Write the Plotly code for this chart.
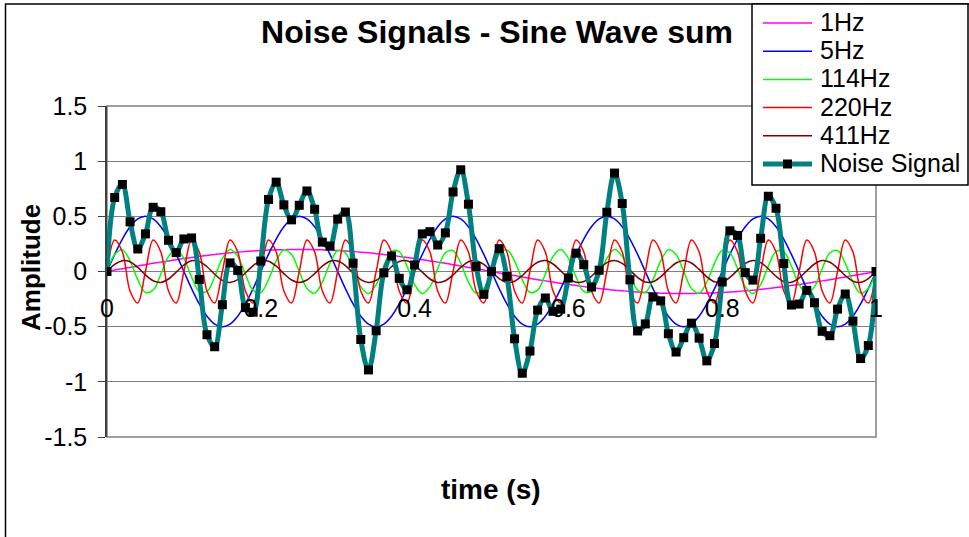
import plotly.graph_objects as go

# sampling instants (s), 100 samples per second
time_s = [i / 100 for i in range(101)]

# component waves
wave_1hz = [0, 0.013, 0.025, 0.037, 0.050, 0.062, 0.074, 0.085, 0.096, 0.107,
            0.118, 0.127, 0.137, 0.146, 0.154, 0.162, 0.169, 0.175, 0.181, 0.186,
            0.190, 0.194, 0.196, 0.198, 0.200, 0.200, 0.200, 0.198, 0.196, 0.194,
            0.190, 0.186, 0.181, 0.175, 0.169, 0.162, 0.154, 0.146, 0.137, 0.127,
            0.118, 0.107, 0.096, 0.085, 0.074, 0.062, 0.050, 0.037, 0.025, 0.013,
            0, -0.013, -0.025, -0.037, -0.050, -0.062, -0.074, -0.085, -0.096, -0.107,
            -0.118, -0.127, -0.137, -0.146, -0.154, -0.162, -0.169, -0.175, -0.181, -0.186,
            -0.190, -0.194, -0.196, -0.198, -0.200, -0.200, -0.200, -0.198, -0.196, -0.194,
            -0.190, -0.186, -0.181, -0.175, -0.169, -0.162, -0.154, -0.146, -0.137, -0.127,
            -0.118, -0.107, -0.096, -0.085, -0.074, -0.062, -0.050, -0.037, -0.025, -0.013, 0]

wave_5hz = [0, 0.155, 0.294, 0.405, 0.476, 0.5, 0.476, 0.405, 0.294, 0.155,
            0, -0.155, -0.294, -0.405, -0.476, -0.5, -0.476, -0.405, -0.294, -0.155,
            0, 0.155, 0.294, 0.405, 0.476, 0.5, 0.476, 0.405, 0.294, 0.155,
            0, -0.155, -0.294, -0.405, -0.476, -0.5, -0.476, -0.405, -0.294, -0.155,
            0, 0.155, 0.294, 0.405, 0.476, 0.5, 0.476, 0.405, 0.294, 0.155,
            0, -0.155, -0.294, -0.405, -0.476, -0.5, -0.476, -0.405, -0.294, -0.155,
            0, 0.155, 0.294, 0.405, 0.476, 0.5, 0.476, 0.405, 0.294, 0.155,
            0, -0.155, -0.294, -0.405, -0.476, -0.5, -0.476, -0.405, -0.294, -0.155,
            0, 0.155, 0.294, 0.405, 0.476, 0.5, 0.476, 0.405, 0.294, 0.155,
            0, -0.155, -0.294, -0.405, -0.476, -0.5, -0.476, -0.405, -0.294, -0.155, 0]

wave_114hz = [0, 0.154, 0.196, 0.096, -0.074, -0.190, -0.169, -0.025, 0.137, 0.200,
              0.118, -0.050, -0.181, -0.181, -0.050, 0.118, 0.200, 0.137, -0.025, -0.169,
              -0.190, -0.074, 0.096, 0.196, 0.154, 0, -0.154, -0.196, -0.096, 0.074,
              0.190, 0.169, 0.025, -0.137, -0.200, -0.118, 0.050, 0.181, 0.181, 0.050,
              -0.118, -0.200, -0.137, 0.025, 0.169, 0.190, 0.074, -0.096, -0.196, -0.154,
              0, 0.154, 0.196, 0.096, -0.074, -0.190, -0.169, -0.025, 0.137, 0.200,
              0.118, -0.050, -0.181, -0.181, -0.050, 0.118, 0.200, 0.137, -0.025, -0.169,
              -0.190, -0.074, 0.096, 0.196, 0.154, 0, -0.154, -0.196, -0.096, 0.074,
              0.190, 0.169, 0.025, -0.137, -0.200, -0.118, 0.050, 0.181, 0.181, 0.050,
              -0.118, -0.200, -0.137, 0.025, 0.169, 0.190, 0.074, -0.096, -0.196, -0.154, 0]

wave_220hz = [0, 0.285, 0.176, -0.176, -0.285, 0, 0.285, 0.176, -0.176, -0.285,
              0, 0.285, 0.176, -0.176, -0.285, 0, 0.285, 0.176, -0.176, -0.285,
              0, 0.285, 0.176, -0.176, -0.285, 0, 0.285, 0.176, -0.176, -0.285,
              0, 0.285, 0.176, -0.176, -0.285, 0, 0.285, 0.176, -0.176, -0.285,
              0, 0.285, 0.176, -0.176, -0.285, 0, 0.285, 0.176, -0.176, -0.285,
              0, 0.285, 0.176, -0.176, -0.285, 0, 0.285, 0.176, -0.176, -0.285,
              0, 0.285, 0.176, -0.176, -0.285, 0, 0.285, 0.176, -0.176, -0.285,
              0, 0.285, 0.176, -0.176, -0.285, 0, 0.285, 0.176, -0.176, -0.285,
              0, 0.285, 0.176, -0.176, -0.285, 0, 0.285, 0.176, -0.176, -0.285,
              0, 0.285, 0.176, -0.176, -0.285, 0, 0.285, 0.176, -0.176, -0.285, 0]

wave_411hz = [0, 0.064, 0.098, 0.088, 0.037, -0.031, -0.084, -0.099, -0.068, -0.006,
              0.059, 0.097, 0.090, 0.043, -0.025, -0.081, -0.100, -0.073, -0.013, 0.054,
              0.095, 0.093, 0.048, -0.019, -0.077, -0.100, -0.077, -0.019, 0.048, 0.093,
              0.095, 0.054, -0.013, -0.073, -0.100, -0.081, -0.025, 0.043, 0.090, 0.097,
              0.059, -0.006, -0.068, -0.099, -0.084, -0.031, 0.037, 0.088, 0.098, 0.064,
              0, -0.064, -0.098, -0.088, -0.037, 0.031, 0.084, 0.099, 0.068, 0.006,
              -0.059, -0.097, -0.090, -0.043, 0.025, 0.081, 0.100, 0.073, 0.013, -0.054,
              -0.095, -0.093, -0.048, 0.019, 0.077, 0.100, 0.077, 0.019, -0.048, -0.093,
              -0.095, -0.054, 0.013, 0.073, 0.100, 0.081, 0.025, -0.043, -0.090, -0.097,
              -0.059, 0.006, 0.068, 0.099, 0.084, 0.031, -0.037, -0.088, -0.098, -0.064, 0]

noise_signal = [0, 0.671, 0.789, 0.450, 0.204, 0.341, 0.582, 0.542, 0.283, 0.171,
                0.295, 0.304, -0.072, -0.573, -0.682, -0.301, 0.078, 0.010, -0.327, -0.369,
                0.095, 0.653, 0.810, 0.604, 0.468, 0.600, 0.730, 0.564, 0.266, 0.231,
                0.475, 0.539, 0.075, -0.616, -0.892, -0.537, -0.012, 0.141, -0.062, -0.166,
                0.059, 0.341, 0.361, 0.240, 0.350, 0.721, 0.922, 0.610, 0.045, -0.207,
                0, 0.207, -0.045, -0.610, -0.922, -0.721, -0.350, -0.240, -0.361, -0.341,
                -0.059, 0.166, 0.062, -0.141, 0.012, 0.537, 0.892, 0.616, -0.075, -0.539,
                -0.475, -0.231, -0.266, -0.564, -0.730, -0.600, -0.468, -0.604, -0.810, -0.653,
                -0.095, 0.369, 0.327, -0.010, -0.078, 0.301, 0.682, 0.573, 0.072, -0.304,
                -0.295, -0.171, -0.283, -0.542, -0.582, -0.341, -0.204, -0.450, -0.789, -0.671, 0]

x_ticks = [0, 0.2, 0.4, 0.6, 0.8, 1]
x_labels = ["0", "0.2", "0.4", "0.6", "0.8", "1"]
y_ticks = [-1.5, -1, -0.5, 0, 0.5, 1, 1.5]
y_labels = ["-1.5", "-1", "-0.5", "0", "0.5", "1", "1.5"]

FONT = "Liberation Sans, Arial, sans-serif"

components = [
    ("1Hz", wave_1hz, "#FF00FF"),
    ("5Hz", wave_5hz, "#0000FF"),
    ("114Hz", wave_114hz, "#00FF00"),
    ("220Hz", wave_220hz, "#FF0000"),
    ("411Hz", wave_411hz, "#800000"),
]
NOISE_COL = "#008080"

fig = go.Figure()
for name, vals, col in components:
    fig.add_trace(go.Scatter(x=time_s, y=vals, name=name, mode="lines",
                             line=dict(color=col, width=1.5, shape="spline")))

fig.add_trace(go.Scatter(
    x=time_s, y=noise_signal, name="Noise Signal", mode="lines+markers",
    line=dict(color=NOISE_COL, width=5, shape="spline"),
    marker=dict(symbol="square", color="black", size=9)
))

# pixel -> paper helpers (plot area 107..876 x 106..437)
L, R, T, B = 107, 876, 106, 437
def px(x):
    return (x - L) / (R - L)
def py(y):
    return (B - y) / (B - T)

shapes = [
    dict(type="rect", xref="paper", yref="paper", x0=0, x1=1, y0=0, y1=1,
         line=dict(color="#808080", width=1.5), layer="below"),
    dict(type="rect", xref="paper", yref="paper", x0=px(5.5), x1=px(990),
         y0=py(560), y1=py(4), line=dict(color="black", width=1.5), layer="below"),
    # legend box (drawn by hand to match the tight Excel row spacing)
    dict(type="rect", xref="paper", yref="paper", x0=px(752), x1=px(968),
         y0=py(185), y1=py(4), line=dict(color="black", width=1.5),
         fillcolor="white", layer="above"),
]
annotations = [
    dict(text="<b>Amplitude</b>", xref="paper", yref="paper", x=px(31), y=py(268),
         textangle=-90, showarrow=False, font=dict(size=26), xanchor="center", yanchor="middle"),
    dict(text="<b>time (s)</b>", xref="paper", yref="paper", x=px(491), y=py(489),
         showarrow=False, font=dict(size=28), xanchor="center", yanchor="middle"),
]

legend_names = [c[0] for c in components] + ["Noise Signal"]
legend_cols = [c[2] for c in components] + [NOISE_COL]
for i, (nm, col) in enumerate(zip(legend_names, legend_cols)):
    yy = 23 + i * 28.2
    wide = nm == "Noise Signal"
    shapes.append(dict(type="line", xref="paper", yref="paper",
                       x0=px(763), x1=px(812), y0=py(yy), y1=py(yy),
                       line=dict(color=col, width=5 if wide else 1.5), layer="above"))
    if wide:
        shapes.append(dict(type="rect", xref="paper", yref="paper",
                           x0=px(783), x1=px(792), y0=py(yy + 4.5), y1=py(yy - 4.5),
                           line=dict(width=0), fillcolor="black", layer="above"))
    annotations.append(dict(text=nm, xref="paper", yref="paper", x=px(818), y=py(yy - 1),
                            xanchor="left", yanchor="middle", showarrow=False,
                            font=dict(size=25)))

fig.update_layout(
    width=969, height=537,
    margin=dict(l=L, r=969 - R, t=T, b=537 - B),
    paper_bgcolor="white", plot_bgcolor="white",
    font=dict(family=FONT, size=25, color="black"),
    title=dict(text="<b>Noise Signals - Sine Wave sum</b>", x=497 / 969, xanchor="center",
               y=1 - 32 / 537, yanchor="middle", font=dict(size=32)),
    showlegend=False,
    xaxis=dict(range=[0, 1], tickmode="array", tickvals=x_ticks, ticktext=x_labels,
               showgrid=False, zeroline=False, showline=False, ticks="",
               anchor="free", position=0.5, ticklabelstandoff=19),
    yaxis=dict(range=[-1.5, 1.5], tickmode="array", tickvals=y_ticks, ticktext=y_labels,
               showgrid=True, gridcolor="#808080", gridwidth=1, zeroline=False,
               showline=True, linecolor="#404040", linewidth=1.5,
               ticks="outside", ticklen=7, tickcolor="#404040", ticklabelstandoff=6),
    shapes=shapes,
    annotations=annotations,
)

fig.write_html("out.html", config={"displayModeBar": False},
               post_script="document.body.style.margin='0';")
